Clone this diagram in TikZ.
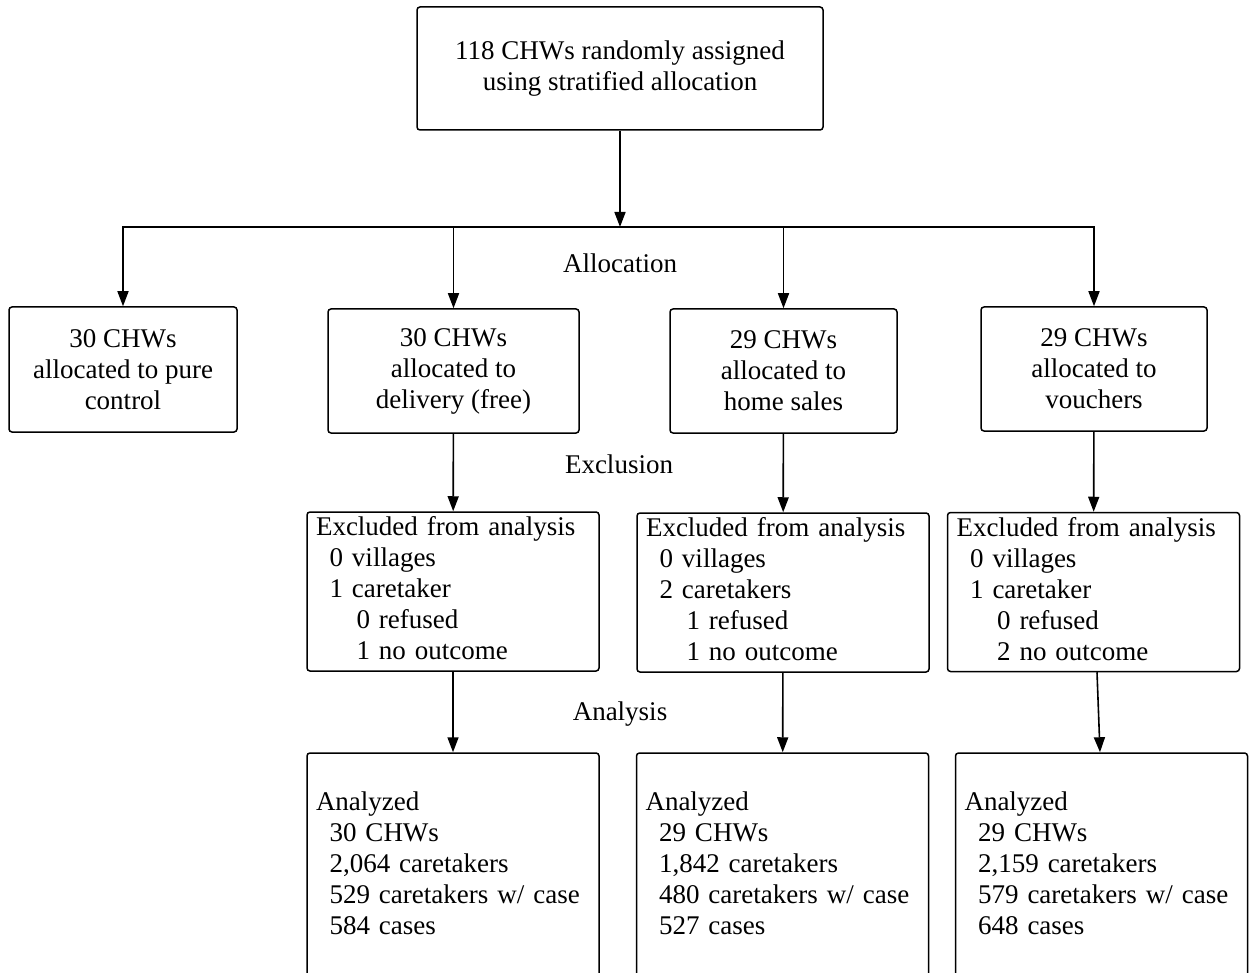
\documentclass[tikz,border=0pt]{standalone}
\usepackage{fontspec}
\setmainfont{Liberation Serif}
\usetikzlibrary{arrows.meta,positioning,calc}

\tikzset{
  stage/.style={draw, rounded corners=3pt, line width=1.5pt, align=center,
    font=\fontsize{27}{31}\selectfont, inner sep=0pt},
  listbox/.style={stage, align=left, text width=274pt, inner xsep=9pt,
    execute at begin node=\strut, execute at end node=\strut},
  phase/.style={font=\fontsize{27}{31}\selectfont, anchor=base, inner sep=0pt},
  flow/.style={->, line width=1.6pt}
}
\newcommand{\lvlone}{\hspace*{13.5pt}}
\newcommand{\lvltwo}{\hspace*{40.5pt}}

\begin{document}
\begin{tikzpicture}[x=1pt, y=-1pt, >={Triangle[length=15pt,width=11pt]}]
  \useasboundingbox (0,0) rectangle (1253,973);
  % randomisation
  \node[stage, minimum width=406pt, minimum height=123pt] (rand) at (620,68.5)
    {118 CHWs randomly assigned\\using stratified allocation};
  \coordinate (split) at (620,227);
  % allocation arms
  \node[stage, minimum width=228pt, minimum height=125pt] (ctrl) at (123,369.5)
    {30 CHWs\\allocated to pure\\control};
  \node[stage, minimum width=251pt, minimum height=124pt] (deliv) at (453.5,371)
    {30 CHWs\\allocated to\\delivery (free)};
  \node[stage, minimum width=227pt, minimum height=124pt] (home) at (783.5,371)
    {29 CHWs\\allocated to\\home sales};
  \node[stage, minimum width=226pt, minimum height=124pt] (vouch) at (1094,369)
    {29 CHWs\\allocated to\\vouchers};
  % exclusions
  \node[listbox, minimum height=159pt] (exDeliv) at (453,591.5)
    {Excluded from analysis\\\lvlone 0 villages\\\lvlone 1 caretaker\\\lvltwo 0 refused\\\lvltwo 1 no outcome};
  \node[listbox, minimum height=159pt] (exHome) at (783,592.5)
    {Excluded from analysis\\\lvlone 0 villages\\\lvlone 2 caretakers\\\lvltwo 1 refused\\\lvltwo 1 no outcome};
  \node[listbox, minimum height=159pt] (exVouch) at (1093.5,592)
    {Excluded from analysis\\\lvlone 0 villages\\\lvlone 1 caretaker\\\lvltwo 0 refused\\\lvltwo 2 no outcome};
  % analysed
  \node[listbox, minimum height=226pt] (anDeliv) at (453,866)
    {Analyzed\\\lvlone 30 CHWs\\\lvlone 2,064 caretakers\\\lvlone 529 caretakers w/ case\\\lvlone 584 cases};
  \node[listbox, minimum height=226pt] (anHome) at (782.5,866)
    {Analyzed\\\lvlone 29 CHWs\\\lvlone 1,842 caretakers\\\lvlone 480 caretakers w/ case\\\lvlone 527 cases};
  \node[listbox, minimum height=226pt] (anVouch) at (1101.5,866)
    {Analyzed\\\lvlone 29 CHWs\\\lvlone 2,159 caretakers\\\lvlone 579 caretakers w/ case\\\lvlone 648 cases};
  % phase labels
  \node[phase] (allocLbl) at (620,273) {Allocation};
  \node[phase] (exclLbl) at (619,473) {Exclusion};
  \node[phase] (anaLbl) at (620,720) {Analysis};
  % arrows
  \draw[flow] (rand) -- (split);
  \draw[flow] (split) -| (ctrl.north);
  \draw[flow] (split) -| (deliv.north);
  \draw[flow] (split) -| (home.north);
  \draw[flow] (split) -| (vouch.north);
  \draw[flow] (deliv) -- (exDeliv);
  \draw[flow] (home) -- (exHome);
  \draw[flow] (vouch) -- (exVouch);
  \draw[flow] (exDeliv) -- (anDeliv);
  \draw[flow] (exHome) -- (anHome);
  \draw[flow] ([xshift=3.5pt]exVouch.south) -- ([xshift=-1.5pt]anVouch.north);
\end{tikzpicture}
\end{document}
